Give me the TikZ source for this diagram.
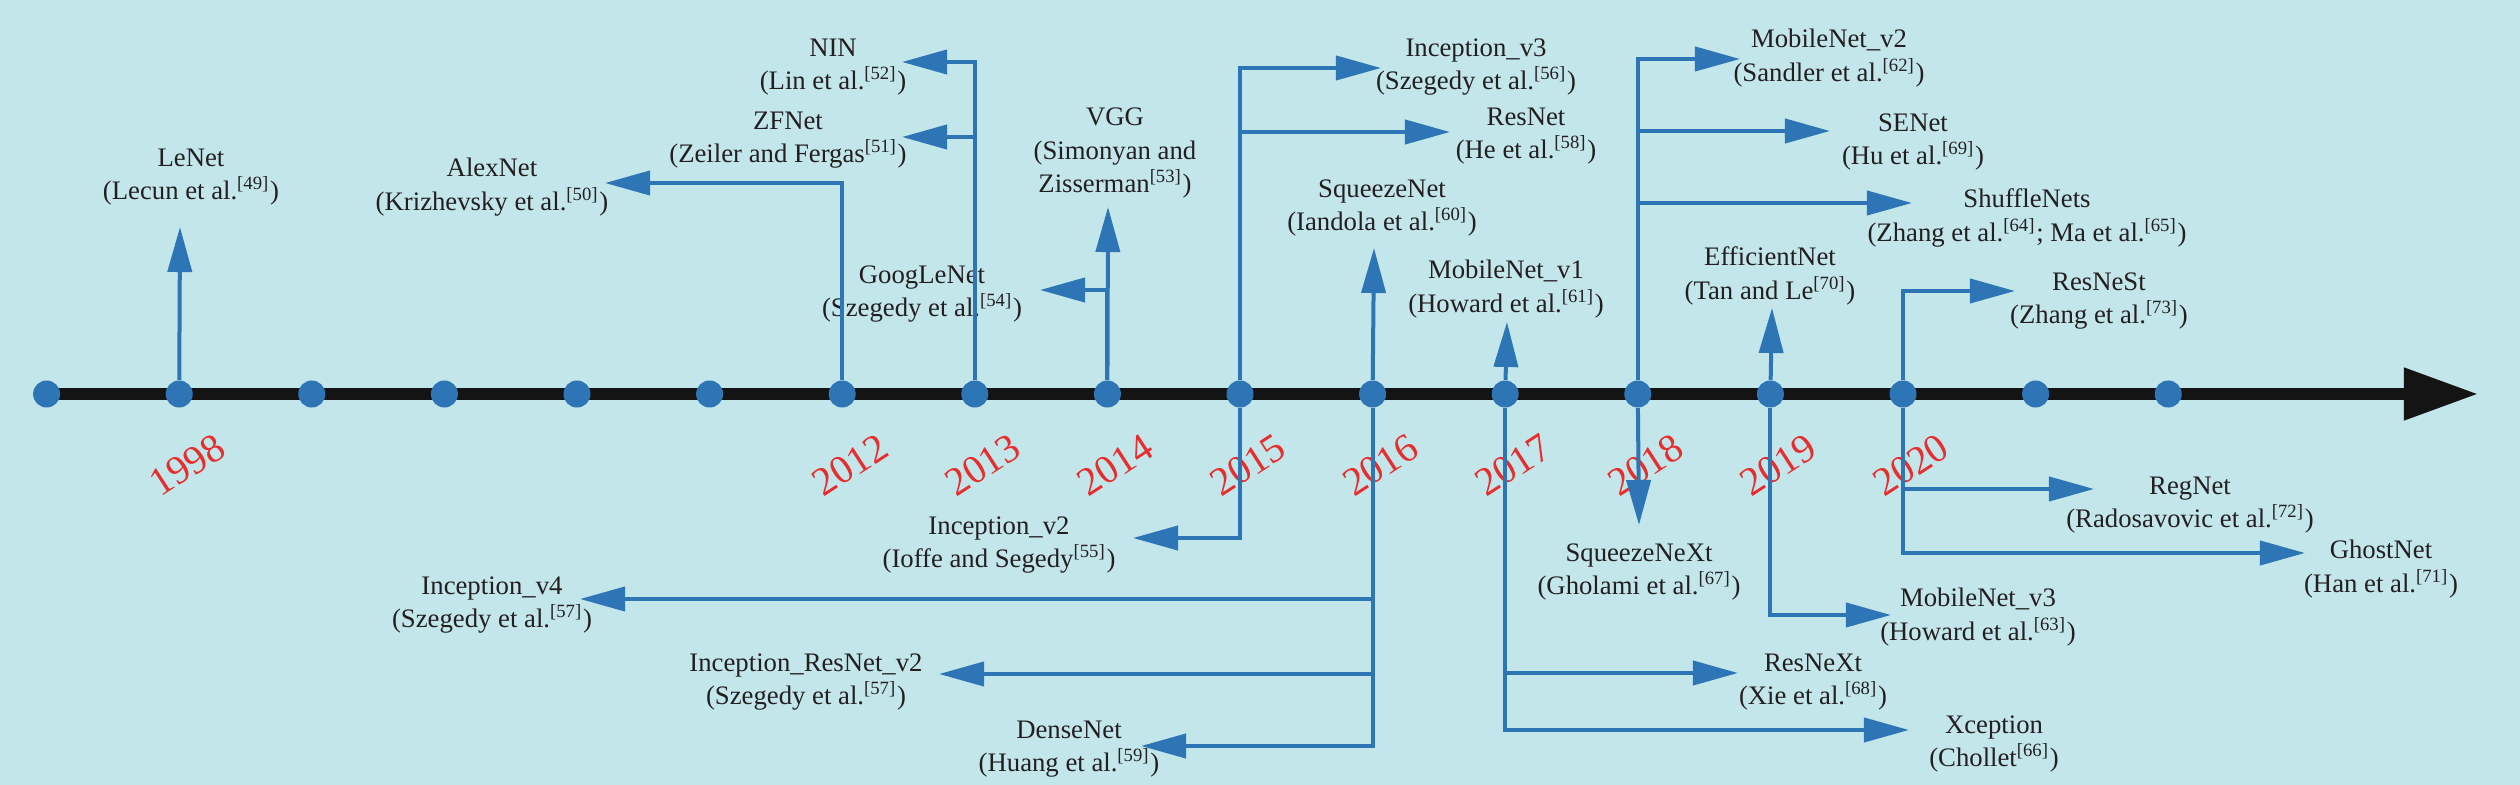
\documentclass[tikz,border=0pt]{standalone}
\usepackage{fontspec}
\setmainfont{Liberation Serif}
\usetikzlibrary{arrows.meta}
\definecolor{bgcyan}{RGB}{195,230,235}
\definecolor{netblue}{RGB}{46,117,182}
\definecolor{yearred}{RGB}{232,45,45}
\definecolor{inkgray}{RGB}{35,31,32}
\newcommand{\refno}[1]{\textsuperscript{[#1]}}

\begin{document}
\begin{tikzpicture}
        [x=0.01cm,y=-0.01cm,
         net/.style={align=center,text=inkgray,inner sep=0pt,
                     font=\fontsize{7.6}{9.5}\selectfont},
         yr/.style={text=yearred,rotate=33,font=\fontsize{11.4}{12}\selectfont},
         yeardot/.style={circle,fill=netblue,minimum size=0.27cm,inner sep=0pt},
         link/.style={draw=netblue,line width=0.04cm,
                      -{Triangle[length=0.45cm,width=0.24cm]}},
         timeline/.style={draw=black!92,line width=0.11cm,
                          -{Triangle[length=0.74cm,width=0.5cm]}}]

        \fill[bgcyan] (0,0) rectangle (2520,785);
        \useasboundingbox (0,0) rectangle (2520,785);

        % time axis
        \coordinate (ax0) at (47,394);
        \coordinate (ax1) at (2478,394);
        \draw[timeline] (ax0) -- (ax1);
        \foreach \i in {0,...,16}
            \node[yeardot] (d\i) at (46.6+132.6*\i,394) {};

        \foreach \i/\yr in {1/1998,6/2012,7/2013,8/2014,9/2015,10/2016,11/2017,12/2018,13/2019,14/2020}
            \node[yr] (y\yr) at (54.6+132.6*\i,465) {\yr};

        % networks above the axis
        \node[net] (lenet) at (191,177) {LeNet\\(Lecun et al.\refno{49})};
        \node[net] (alexnet) at (492,187) {AlexNet\\(Krizhevsky et al.\refno{50})};
        \node[net] (nin) at (833,67) {NIN\\(Lin et al.\refno{52})};
        \node[net] (zfnet) at (788,140) {ZFNet\\(Zeiler and Fergas\refno{51})};
        \node[net] (googlenet) at (922,294) {GoogLeNet\\(Szegedy et al.\refno{54})};
        \node[net] (vgg) at (1115,153) {VGG\\(Simonyan and\\Zisserman\refno{53})};
        \node[net] (incv3) at (1476,67) {Inception\_v3\\(Szegedy et al.\refno{56})};
        \node[net] (resnet) at (1526,136) {ResNet\\(He et al.\refno{58})};
        \node[net] (squeezenet) at (1382,208) {SqueezeNet\\(Iandola et al.\refno{60})};
        \node[net] (mobilev1) at (1506,289) {MobileNet\_v1\\(Howard et al.\refno{61})};
        \node[net] (mobilev2) at (1829,58) {MobileNet\_v2\\(Sandler et al.\refno{62})};
        \node[net] (senet) at (1913,142) {SENet\\(Hu et al.\refno{69})};
        \node[net] (shufflenets) at (2027,218) {ShuffleNets\\(Zhang et al.\refno{64}; Ma et al.\refno{65})};
        \node[net] (efficientnet) at (1770,276) {EfficientNet\\(Tan and Le\refno{70})};
        \node[net] (resnest) at (2099,301) {ResNeSt\\(Zhang et al.\refno{73})};

        % networks below the axis
        \node[net] (incv2) at (999,545) {Inception\_v2\\(Ioffe and Segedy\refno{55})};
        \node[net] (incv4) at (492,605) {Inception\_v4\\(Szegedy et al.\refno{57})};
        \node[net] (incresv2) at (806,682) {Inception\_ResNet\_v2\\(Szegedy et al.\refno{57})};
        \node[net] (densenet) at (1069,749) {DenseNet\\(Huang et al.\refno{59})};
        \node[net] (squeezenext) at (1639,572) {SqueezeNeXt\\(Gholami et al.\refno{67})};
        \node[net] (mobilev3) at (1978,617) {MobileNet\_v3\\(Howard et al.\refno{63})};
        \node[net] (resnext) at (1813,682) {ResNeXt\\(Xie et al.\refno{68})};
        \node[net] (xception) at (1994,744) {Xception\\(Chollet\refno{66})};
        \node[net] (regnet) at (2190,505) {RegNet\\(Radosavovic et al.\refno{72})};
        \node[net] (ghostnet) at (2381,569) {GhostNet\\(Han et al.\refno{71})};

        % arrow tips
        \coordinate (t-lenet) at (180,227);
        \coordinate (t-alexnet) at (605,183);
        \coordinate (t-nin) at (902,62);
        \coordinate (t-zfnet) at (902,137);
        \coordinate (t-vgg) at (1108,207);
        \coordinate (t-googlenet) at (1040,290);
        \coordinate (t-incv3) at (1381,68);
        \coordinate (t-resnet) at (1450,132);
        \coordinate (t-incv2) at (1133,538);
        \coordinate (t-squeezenet) at (1374,248);
        \coordinate (t-incv4) at (580,599);
        \coordinate (t-incresv2) at (939,674);
        \coordinate (t-densenet) at (1141,746);
        \coordinate (t-mobilev1) at (1507,322);
        \coordinate (t-resnext) at (1738,673);
        \coordinate (t-xception) at (1909,730);
        \coordinate (t-mobilev2) at (1740,59);
        \coordinate (t-senet) at (1830,131);
        \coordinate (t-shufflenets) at (1912,203);
        \coordinate (t-squeezenext) at (1639,525);
        \coordinate (t-efficientnet) at (1772,308);
        \coordinate (t-mobilev3) at (1891,615);
        \coordinate (t-resnest) at (2015,291);
        \coordinate (t-regnet) at (2094,489);
        \coordinate (t-ghostnet) at (2305,553);

        \draw[link] (d1) -- (t-lenet);
        \draw[link] (d6) |- (t-alexnet);
        \draw[link] (d7) |- (t-nin);
        \draw[link] (d7) |- (t-zfnet);
        \draw[link] (d8) -- (t-vgg);
        \draw[link] (d8) |- (t-googlenet);
        \draw[link] (d9) |- (t-incv3);
        \draw[link] (d9) |- (t-resnet);
        \draw[link] (d9) |- (t-incv2);
        \draw[link] (d10) -- (t-squeezenet);
        \draw[link] (d10) |- (t-incv4);
        \draw[link] (d10) |- (t-incresv2);
        \draw[link] (d10) |- (t-densenet);
        \draw[link] (d11) -- (t-mobilev1);
        \draw[link] (d11) |- (t-resnext);
        \draw[link] (d11) |- (t-xception);
        \draw[link] (d12) |- (t-mobilev2);
        \draw[link] (d12) |- (t-senet);
        \draw[link] (d12) |- (t-shufflenets);
        \draw[link] (d12) -- (t-squeezenext);
        \draw[link] (d13) -- (t-efficientnet);
        \draw[link] (d13) |- (t-mobilev3);
        \draw[link] (d14) |- (t-resnest);
        \draw[link] (d14) |- (t-regnet);
        \draw[link] (d14) |- (t-ghostnet);
    \end{tikzpicture}
\end{document}
